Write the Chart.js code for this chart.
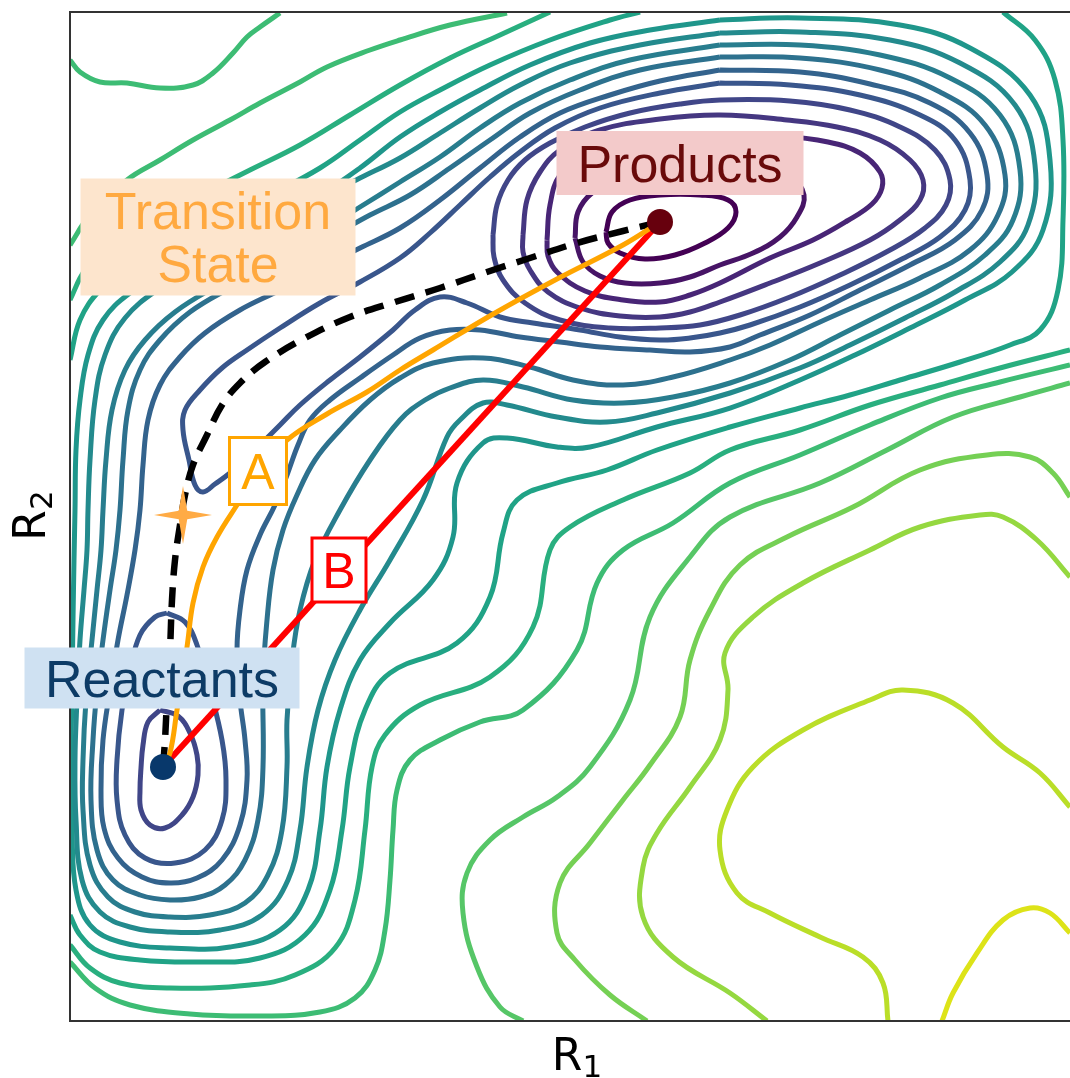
<!DOCTYPE html>
<html>
<head>
<meta charset="utf-8">
<script src="https://cdn.jsdelivr.net/npm/chart.js@4.4.1/dist/chart.umd.min.js"></script>
<style>
  html, body { margin: 0; padding: 0; background: #fff; }
  #wrap { width: 1070px; height: 1078px; }
</style>
</head>
<body>
<div id="wrap"><canvas id="pes" width="1070" height="1078"></canvas></div>
<script>
// energy surface contours, in (R1, R2) units
var levelColors = ['#440154', '#471466', '#482576', '#453781', '#404688', '#39568c', '#33638d',
  '#2d718e', '#287d8e', '#238a8d', '#1f968b', '#20a386', '#29af7f', '#3dbc74', '#56c667',
  '#75d054', '#95d840', '#bade28', '#dde318', '#fde725'];

var prod0 = [[536,789],[542,809],[560,821],[590,826],[630,826],[658,821],[666,809],[658,793],[635,778],[605,766],[575,762],[550,768],[538,778]];
var prod1 = [[505,783],[508,809],[522,828],[550,843],[600,853],[670,851],[720,843],[734,826],[727,804],[710,784],[683,768],[650,756],[620,744],[590,738],[555,738],[530,745],[513,759]];
var prod2 = [[477,781],[480,816],[490,846],[515,866],[560,881],[630,887],[710,885],[758,879],[790,868],[810,849],[812,833],[802,817],[777,800],[743,781],[700,763],[650,738],[620,726],[590,719],[553,721],[515,730],[487,749],[478,765]];
var prod3 = [[453,786],[457,821],[470,849],[490,871],[530,891],[590,902],[650,906],[717,901],[767,894],[810,881],[840,861],[853,841],[850,821],[830,801],[800,781],[750,758],[700,738],[650,719],[620,709],[590,704],[550,705],[510,713],[478,729],[460,751],[453,769]];
var prod4 = [[423,786],[427,816],[438,841],[455,861],[480,878],[515,894],[560,908],[610,917],[650,921],[720,920],[780,911],[830,894],[865,871],[880,841],[876,816],[855,793],[820,771],[770,746],[720,724],[670,706],[630,696],[590,693],[540,693],[490,701],[455,718],[433,741],[424,764]];
var finger5 = [[650,938],[720,936],[790,926],[850,906],[885,881],[900,841],[895,811],[870,784],[830,761],[780,736],[730,714],[680,696],[650,688],[620,683],[590,681],[550,684],[510,691],[463,698],[430,704],[397,718],[370,724],[345,711],[323,691],[290,664],[260,641],[230,616],[210,596],[195,581],[180,566],[160,548],[145,537],[133,529],[125,536],[119,561],[113,591],[115,611],[130,631],[152,653],[177,671],[210,693],[250,718],[290,739],[330,763],[360,788],[390,816],[420,844],[450,869],[485,893],[530,913],[590,928]];
var react4 = [[90,311],[108,305],[120,288],[127,266],[128,246],[123,224],[112,206],[95,193],[80,196],[71,211],[70,231],[71,253],[73,276],[78,299]];
var react5 = [[97,408],[115,399],[127,376],[140,331],[152,281],[156,241],[152,201],[135,171],[105,158],[75,163],[55,186],[47,221],[47,261],[52,311],[60,351],[70,386],[85,404]];
var ring6 = [[650,951],[730,949],[800,937],[860,918],[900,888],[917,846],[912,811],[885,781],[840,756],[790,731],[740,706],[690,686],[660,674],[620,669],[580,671],[530,674],[490,679],[450,684],[410,691],[380,691],[350,683],[323,666],[290,643],[260,621],[240,601],[228,576],[217,546],[205,516],[190,486],[177,451],[170,411],[167,371],[170,321],[175,281],[177,241],[170,196],[152,161],[127,143],[100,138],[72,144],[48,163],[34,193],[31,231],[33,281],[40,331],[48,381],[57,426],[65,471],[70,511],[73,556],[78,601],[90,636],[110,664],[135,688],[170,711],[210,731],[250,753],[290,773],[330,793],[370,821],[410,853],[450,884],[490,908],[540,926],[590,940]];
var ring7 = [[650,964],[730,963],[810,951],[870,929],[915,896],[935,846],[928,806],[900,771],[850,743],[800,721],[750,699],[700,676],[660,661],[603,644],[553,636],[503,641],[460,654],[413,663],[363,658],[330,643],[300,621],[270,591],[245,561],[227,526],[213,491],[203,451],[197,401],[193,341],[193,254],[188,201],[175,161],[155,136],[130,124],[100,121],[70,126],[43,141],[27,171],[21,221],[23,281],[27,331],[33,381],[40,431],[46,471],[50,511],[53,561],[58,611],[70,651],[90,681],[120,709],[160,733],[210,759],[260,784],[300,806],[340,826],[380,853],[420,881],[460,908],[510,931],[570,951]];
var ring8 = [[650,976],[730,976],[810,966],[880,943],[930,906],[950,851],[943,801],[915,766],[870,736],[820,711],[770,686],[720,661],[660,638],[603,624],[553,618],[503,621],[453,634],[413,641],[380,633],[355,621],[330,601],[300,561],[270,511],[245,461],[230,411],[222,361],[217,301],[217,254],[212,191],[198,146],[175,118],[140,106],[100,104],[65,109],[38,124],[20,156],[13,211],[13,261],[16,321],[22,381],[27,431],[31,471],[33,511],[36,561],[42,611],[55,651],[75,681],[105,709],[145,734],[190,758],[240,783],[290,814],[330,839],[370,864],[410,893],[450,918],[500,941],[560,961]];
var ring9 = [[650,988],[730,989],[820,981],[890,958],[945,916],[965,856],[958,796],[930,759],[885,729],[835,703],[780,676],[730,653],[660,628],[587,608],[537,599],[487,604],[437,616],[413,618],[390,601],[377,584],[353,521],[320,461],[290,411],[265,361],[248,311],[237,254],[230,191],[218,141],[192,106],[150,91],[100,89],[60,94],[30,109],[12,141],[6,201],[5,261],[7,321],[10,381],[14,431],[17,471],[18,511],[20,561],[25,621],[35,666],[55,703],[90,733],[140,763],[190,791],[240,818],[290,843],[330,863],[370,888],[410,913],[450,936],[500,958],[570,976]];
var ring10 = [[650,1001],[730,1003],[830,996],[900,973],[960,926],[980,861],[973,791],[942,749],[895,721],[840,693],[785,666],[730,641],[660,613],[587,594],[520,574],[487,574],[437,583],[413,578],[387,538],[383,484],[363,441],[320,398],[290,361],[270,311],[257,254],[250,191],[238,131],[210,91],[160,74],[100,73],[50,79],[20,96],[6,131],[2,191],[1,261],[2,331],[3,401],[4,461],[5,511],[6,571],[10,621],[18,666],[33,701],[60,728],[100,751],[150,775],[200,799],[250,826],[290,853],[330,884],[370,909],[410,931],[460,956],[520,978],[580,991]];
var open11a = [[0,661],[10,701],[30,731],[60,756],[100,776],[150,801],[200,826],[250,853],[290,881],[330,909],[370,931],[420,956],[480,981],[540,1001],[570,1009]];
var open11b = [[933,1009],[965,981],[985,941],[993,881],[993,801],[988,731],[970,691],[940,676],[890,659],[830,641],[780,626],[730,613],[660,594],[587,571],[537,551],[487,538],[447,521],[433,488],[420,424],[387,378],[320,348],[295,311],[280,254],[272,191],[260,131],[235,86],[190,63],[130,59],[70,61],[30,69],[10,86],[0,106]];
var open12a = [[0,721],[15,751],[40,776],[80,801],[130,826],[180,851],[230,876],[280,906],[330,936],[380,963],[430,986],[480,1009]];
var open12b = [[1000,671],[930,653],[870,636],[800,616],[730,591],[660,571],[620,548],[553,521],[500,494],[480,471],[463,394],[420,344],[350,316],[315,286],[302,254],[295,191],[285,121],[265,73],[225,46],[180,36],[100,33],[50,38],[20,53],[0,76]];
var open13a = [[0,776],[20,806],[57,841],[90,861],[123,881],[160,901],[190,918],[230,939],[257,954],[300,971],[330,981],[380,996],[437,1008]];
var open13b = [[0,59],[25,33],[60,16],[120,7],[190,5],[250,9],[285,23],[305,51],[315,91],[320,141],[323,191],[327,231],[340,261],[370,281],[410,299],[453,311],[507,371],[527,438],[553,471],[603,498],[660,538],[730,566],[800,596],[870,623],[930,639],[1000,656]];
var hill13 = [[0,961],[10,949],[30,939],[57,938],[90,933],[123,936],[143,948],[163,968],[177,984],[190,994],[210,1008]];
var open14 = [[1000,638],[950,624],[883,604],[817,571],[750,538],[660,504],[620,464],[580,404],[560,321],[520,254],[487,224],[453,204],[420,181],[397,148],[393,108],[407,54],[430,14],[453,0]];
var open15 = [[1000,524],[983,548],[960,564],[917,566],[850,551],[783,514],[717,484],[670,456],[640,411],[620,361],[610,304],[580,256],[553,221],[520,178],[490,138],[487,88],[505,61],[540,26],[577,0]];
var open16 = [[1000,444],[967,481],[933,504],[910,506],[850,494],[800,471],[733,438],[683,404],[655,368],[658,331],[650,281],[620,234],[587,188],[573,154],[573,104],[603,64],[660,28],[697,0]];
var open17 = [[1000,214],[970,248],[933,274],[883,318],[833,331],[800,321],[733,291],[683,254],[657,211],[650,171],[667,128],[700,108],[750,84],[793,64],[813,38],[818,0]];
var open18 = [[1000,88],[980,108],[960,113],[933,101],[907,68],[883,28],[872,0]];

var contours = [
  { level: 0, pts: prod0, closed: true }, { level: 1, pts: prod1, closed: true },
  { level: 2, pts: prod2, closed: true }, { level: 3, pts: prod3, closed: true },
  { level: 4, pts: prod4, closed: true }, { level: 5, pts: finger5, closed: true },
  { level: 4, pts: react4, closed: true }, { level: 5, pts: react5, closed: true },
  { level: 6, pts: ring6, closed: true }, { level: 7, pts: ring7, closed: true },
  { level: 8, pts: ring8, closed: true }, { level: 9, pts: ring9, closed: true },
  { level: 10, pts: ring10, closed: true },
  { level: 11, pts: open11a }, { level: 11, pts: open11b },
  { level: 12, pts: open12a }, { level: 12, pts: open12b },
  { level: 13, pts: open13a }, { level: 13, pts: open13b }, { level: 13, pts: hill13 },
  { level: 14, pts: open14 }, { level: 15, pts: open15 }, { level: 16, pts: open16 },
  { level: 17, pts: open17 }, { level: 18, pts: open18 }
];

// reaction paths
var minEnergyPath = [[93,254],[95,281],[97,321],[100,371],[102,421],[105,461],[110,496],[115,526],[123,556],[137,586],[152,616],[170,638],[195,659],[235,683],[280,704],[325,719],[370,733],[417,749],[460,763],[507,778],[553,790],[590,799]];
var pathA = [[93,254],[100,268],[107,311],[117,374],[123,418],[133,454],[147,484],[167,516],[190,551],[217,581],[257,607],[297,629],[330,651],[363,671],[425,708],[487,742],[553,776],[590,799]];
var pathB = [[93,254],[590,799]];
var reactantsAt = [93, 254];
var productsAt = [590, 799];
var transitionAt = [113, 506];

// text boxes
var labelText = [['Transition', 'State'], ['Products'], ['Reactants'], ['A'], ['B']];
var labelAt = [[148, 784], [610, 858], [92, 343], [188, 550], [269, 451]];

var labelStyles = [
  { w: 275, h: 117, fill: '#fde5cd', color: '#ffa940', size: 52, lead: 53 },
  { w: 247, h: 64, fill: '#f3caca', color: '#690a0a', size: 52, lead: 53 },
  { w: 275, h: 61, fill: '#cfe1f2', color: '#0d3b66', size: 52, lead: 53 },
  { w: 57, h: 67, fill: '#ffffff', edge: '#ffa500', color: '#ffa500', size: 50, lead: 53 },
  { w: 54, h: 64, fill: '#ffffff', edge: '#ff0000', color: '#ff0000', size: 50, lead: 53 }
];

function toXY(pts) {
  return pts.map(function (p) { return { x: p[0], y: p[1] }; });
}

function starImage(r, inner, color) {
  var c = document.createElement('canvas');
  c.width = c.height = 2 * r + 2;
  var g = c.getContext('2d');
  var m = r + 1;
  g.fillStyle = color;
  g.beginPath();
  for (var k = 0; k < 8; k++) {
    var ang = k * Math.PI / 4 - Math.PI / 2;
    var rad = k % 2 === 0 ? r : inner;
    g.lineTo(m + rad * Math.cos(ang), m + rad * Math.sin(ang));
  }
  g.closePath();
  g.fill();
  return c;
}

var datasets = [];
contours.forEach(function (c) {
  var pts = c.closed ? c.pts.concat([c.pts[0]]) : c.pts;
  datasets.push({
    data: toXY(pts),
    showLine: true,
    borderColor: levelColors[c.level],
    borderWidth: 5,
    borderJoinStyle: 'round',
    pointRadius: 0,
    tension: 0.4,
    clip: 0,
    order: 10
  });
});
datasets.push({ data: toXY(minEnergyPath), showLine: true, borderColor: '#000', borderWidth: 6.5,
  borderDash: [20, 12], pointRadius: 0, tension: 0.4, order: 6 });
datasets.push({ data: toXY(pathA), showLine: true, borderColor: '#ffa500', borderWidth: 5,
  pointRadius: 0, tension: 0.4, order: 5 });
datasets.push({ data: toXY(pathB), showLine: true, borderColor: '#ff0000', borderWidth: 6,
  pointRadius: 0, order: 5 });
datasets.push({ data: toXY([transitionAt]), pointStyle: starImage(29, 6, '#ffab45'), order: 3 });
datasets.push({ data: toXY([reactantsAt]), pointRadius: 13, backgroundColor: '#08386b',
  borderWidth: 0, order: 2 });
datasets.push({ data: toXY([productsAt]), pointRadius: 13, backgroundColor: '#67000d',
  borderWidth: 0, order: 2 });

function drawTitle(ctx, main, sub, x, y, angle) {
  ctx.save();
  ctx.translate(x, y);
  ctx.rotate(angle);
  ctx.fillStyle = '#000';
  ctx.textAlign = 'left';
  ctx.textBaseline = 'alphabetic';
  ctx.font = '44px "DejaVu Sans"';
  var w1 = ctx.measureText(main).width;
  ctx.font = '31px "DejaVu Sans"';
  var w2 = ctx.measureText(sub).width;
  var x0 = -(w1 + w2) / 2;
  ctx.font = '44px "DejaVu Sans"';
  ctx.fillText(main, x0, 0);
  ctx.font = '31px "DejaVu Sans"';
  ctx.fillText(sub, x0 + w1, 7);
  ctx.restore();
}

var labelPlugin = {
  id: 'pesLabels',
  afterDatasetsDraw: function (chart) {
    var ctx = chart.ctx, area = chart.chartArea;
    var xs = chart.scales.x, ys = chart.scales.y;
    ctx.save();
    ctx.strokeStyle = '#333';
    ctx.lineWidth = 2;
    ctx.beginPath();
    ctx.moveTo(area.right + 20, area.top);
    ctx.lineTo(area.left, area.top);
    ctx.lineTo(area.left, area.bottom);
    ctx.lineTo(area.right + 20, area.bottom);
    ctx.stroke();

    labelText.forEach(function (lines, i) {
      var st = labelStyles[i];
      var cx = xs.getPixelForValue(labelAt[i][0]);
      var cy = ys.getPixelForValue(labelAt[i][1]);
      ctx.fillStyle = st.fill;
      ctx.fillRect(cx - st.w / 2, cy - st.h / 2, st.w, st.h);
      if (st.edge) {
        ctx.strokeStyle = st.edge;
        ctx.lineWidth = 3;
        ctx.strokeRect(cx - st.w / 2, cy - st.h / 2, st.w, st.h);
      }
      ctx.fillStyle = st.color;
      ctx.font = st.size + 'px "Liberation Sans", Arial, sans-serif';
      ctx.textAlign = 'center';
      ctx.textBaseline = 'alphabetic';
      lines.forEach(function (line, k) {
        var y = cy + (k - (lines.length - 1) / 2) * st.lead + 0.36 * st.size;
        ctx.fillText(line, cx, y);
      });
    });

    drawTitle(ctx, 'R', '1', area.left + 507, area.bottom + 49, 0);
    drawTitle(ctx, 'R', '2', area.left - 25, (area.top + area.bottom) / 2 - 1, -Math.PI / 2);
    ctx.restore();
  }
};

new Chart(document.getElementById('pes').getContext('2d'), {
  type: 'scatter',
  data: { datasets: datasets },
  options: {
    responsive: false,
    animation: false,
    events: [],
    layout: { autoPadding: false, padding: { left: 70, top: 12, right: 0, bottom: 57 } },
    plugins: { legend: { display: false }, tooltip: { enabled: false } },
    scales: {
      x: { type: 'linear', min: 0, max: 1000, display: false },
      y: { type: 'linear', min: 0, max: 1009, display: false }
    }
  },
  plugins: [labelPlugin]
});
</script>
</body>
</html>
